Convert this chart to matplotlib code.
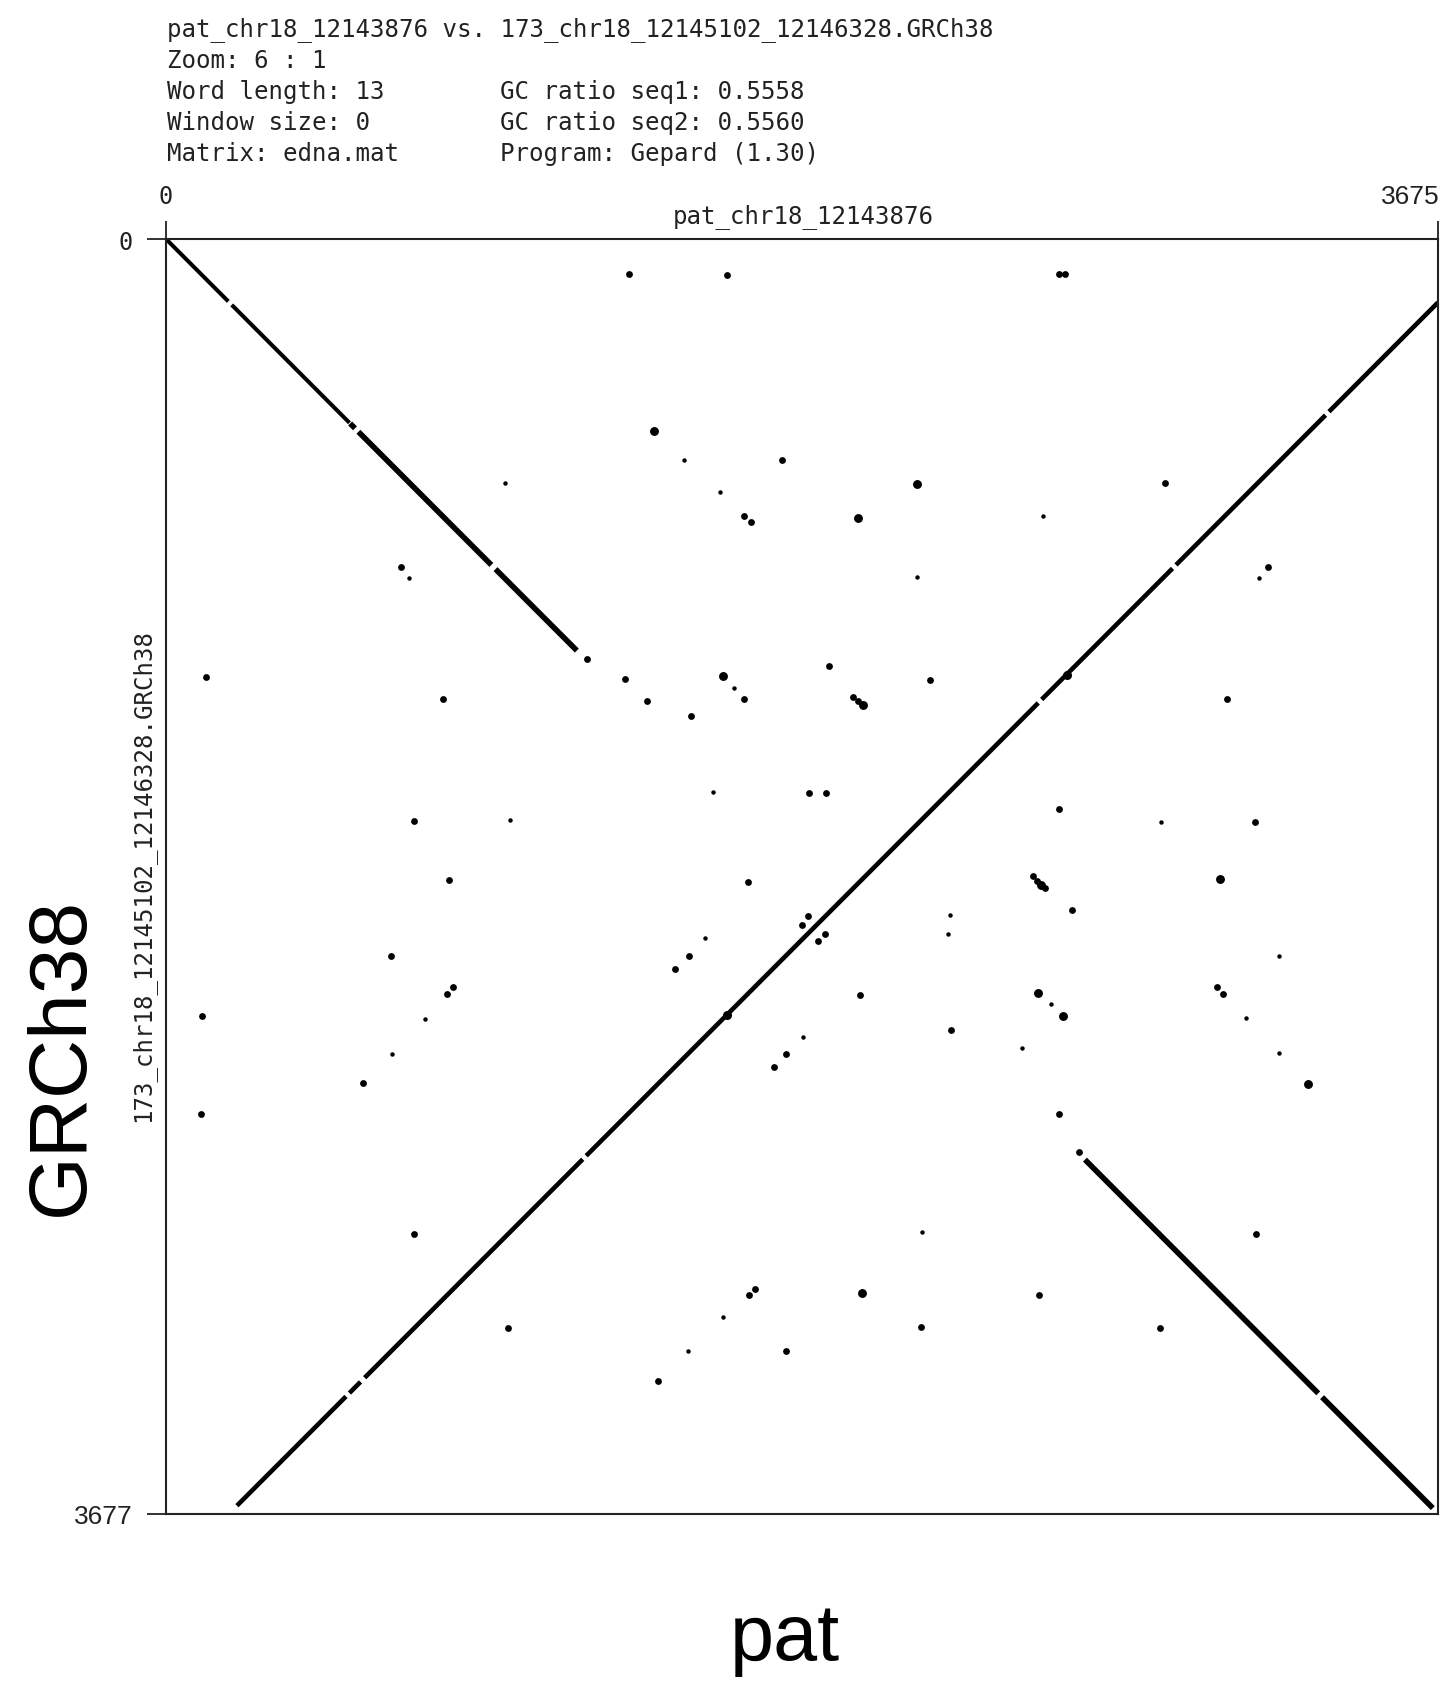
# Gepard dotplot: pat_chr18 vs GRCh38 region

import matplotlib.pyplot as plt

# sequence lengths
len_x = 3675
len_y = 3677

# header text
title_line = 'pat_chr18_12143876 vs. 173_chr18_12145102_12146328.GRCh38'
info_left = ['Zoom: 6 : 1', 'Word length: 13', 'Window size: 0', 'Matrix: edna.mat']
info_right = ['', 'GC ratio seq1: 0.5558', 'GC ratio seq2: 0.5560', 'Program: Gepard (1.30)']
name_x = 'pat_chr18_12143876'
name_y = '173_chr18_12145102_12146328.GRCh38'

# forward matches along y = x (start, end in bp), weight = thick or thin
fwd_start = [0, 190, 532, 556, 952, 2655, 3340]
fwd_end = [180, 530, 546, 940, 1187, 3329, 3660]
fwd_weight = [1, 1, 2, 2, 2, 2, 2]

# reverse complement matches along y = rev_offset - x
rev_offset = 3858
rev_start = [205, 530, 574, 1214, 2530, 2918, 3360]
rev_end = [520, 562, 1204, 2520, 2908, 3350, 3675]
rev_knots = [1621, 2602]

# short scattered hits (x bp, y bp, score 1-3)
dot_x = [978, 679, 703, 1215, 116, 799, 717, 994, 817,
         1339, 1621, 1411, 1498, 1780, 2170, 1602, 1671, 1690, 1998, 2170,
         1915, 1326, 1608, 1642, 1669, 1984, 1998, 2013, 2206, 1390, 1517,
         1580, 1857, 1907,
         2580, 2596, 2885, 2533, 3185, 3159, 3066, 2580, 2876, 3147, 2506, 3045,
         651, 104, 830, 812, 747, 652, 568, 101, 716, 989,
         1681, 1856, 1837, 1903, 1884, 1558, 1510, 1471, 2265, 2260, 2005, 2267,
         2472, 1841, 1791, 1756, 2183, 1702, 1684, 1610, 2011, 2181, 1509, 1791, 1422,
         2516, 2528, 2540, 2617, 3216, 2518, 2556, 2591, 3036, 3054, 3120, 3216,
         3300, 2581, 2639, 3149, 2522, 2873]
dot_y = [703, 947, 977, 1210, 1262, 1328, 1679, 1676, 1849,
         100, 104, 553, 636, 637, 706, 731, 798, 816, 804, 976,
         1232, 1268, 1260, 1295, 1328, 1320, 1332, 1345, 1271, 1331, 1377,
         1595, 1599, 1597,
         102, 102, 703, 799, 947, 978, 1326, 1644, 1681, 1681, 1837, 1845,
         2068, 2240, 2158, 2176, 2250, 2351, 2435, 2522, 2869, 3142,
         1855, 1953, 1977, 2005, 2024, 2017, 2068, 2105, 1950, 2003, 2179, 2280,
         2332, 2302, 2351, 2389, 2863, 3027, 3046, 3110, 3039, 3139, 3207, 3207, 3293,
         1851, 1862, 1873, 1934, 2067, 2175, 2207, 2240, 2158, 2177, 2246, 2348,
         2437, 2522, 2633, 2869, 3046, 3142]
dot_score = [1, 2, 1, 2, 2, 2, 2, 1, 2,
             2, 2, 3, 1, 2, 3, 1, 2, 2, 3, 1,
             2, 2, 3, 1, 2, 2, 2, 3, 2, 2, 2,
             1, 2, 2,
             2, 2, 2, 1, 2, 1, 2, 2, 1, 2, 2, 3,
             2, 2, 2, 2, 1, 1, 2, 2, 2, 2,
             2, 2, 2, 2, 2, 1, 2, 2, 1, 1, 2, 2,
             1, 1, 2, 2, 1, 2, 2, 1, 3, 2, 1, 2, 2,
             2, 3, 2, 2, 1, 3, 1, 3, 2, 2, 1, 1,
             3, 2, 2, 2, 2, 2]

W, H = 1442, 1690
fig = plt.figure(figsize=(W / 100, H / 100), dpi=100)
ax = fig.add_axes([166 / W, 1 - 1515 / H, 1272 / W, 1275 / H])

# diagonal lines
for s, e, w in zip(fwd_start, fwd_end, fwd_weight):
    ax.plot([s, e], [s, e], color='black', lw=2.9 if w == 1 else 4.0,
            solid_capstyle='butt')
for s, e in zip(rev_start, rev_end):
    ax.plot([s, e], [rev_offset - s, rev_offset - e], color='black', lw=3.3,
            solid_capstyle='butt')
for k in rev_knots:
    ax.plot(k, rev_offset - k, 'o', color='black', ms=6.5, mew=0)

# scattered hits
sizes = {1: 3.2, 2: 4.9, 3: 6.4}
for x, y, s in zip(dot_x, dot_y, dot_score):
    ax.plot(x, y, 'o', color='black', ms=sizes[s], mew=0)

ax.set_xlim(0, len_x)
ax.set_ylim(len_y, 0)
ax.xaxis.tick_top()
ax.set_xticks([0, len_x])
ax.set_yticks([0, len_y])
ax.set_xticklabels(['', ''])
ax.set_yticklabels(['0', str(len_y)])
ax.tick_params(axis='x', direction='out', length=13, width=1.3, colors='#222222')
ax.tick_params(axis='y', direction='out', length=14, width=1.3, pad=10, colors='#222222')
for lab in ax.get_yticklabels():
    if lab.get_text() == '0':
        lab.set_family('DejaVu Sans Mono')
        lab.set_fontsize(17)
    else:
        lab.set_family('Liberation Sans')
        lab.set_fontsize(19)
for sp in ax.spines.values():
    sp.set_linewidth(1.5)
    sp.set_color('#222222')

# top axis end labels
ax.annotate('0', xy=(0, 1), xycoords='axes fraction', xytext=(0, 43), textcoords='offset pixels',
            ha='center', va='center', family='DejaVu Sans Mono', fontsize=17, color='#222222')
ax.annotate(str(len_x), xy=(1, 1), xycoords='axes fraction', xytext=(2, 43), textcoords='offset pixels',
            ha='right', va='center', family='Liberation Sans', fontsize=19, color='#222222')

# header
mono = 'DejaVu Sans Mono'
fig.text(167 / W, 1 - 30 / H, title_line, family=mono, fontsize=17.4, va='center', color='#222222')
for i, (a, b) in enumerate(zip(info_left, info_right)):
    yy = 1 - (61 + 31 * i) / H
    fig.text(167 / W, yy, a, family=mono, fontsize=17.4, va='center', color='#222222')
    fig.text(500 / W, yy, b, family=mono, fontsize=17.4, va='center', color='#222222')

# sequence names
fig.text(803 / W, 1 - 217 / H, name_x, family=mono, fontsize=17.4, ha='center', va='center', color='#222222')
fig.text(143 / W, 1 - 876 / H, name_y, family=mono, fontsize=17.4, rotation=90,
         ha='center', va='center', color='#222222')

# big labels
fig.text(62 / W, 1 - 1056 / H, 'GRCh38', family='Liberation Sans', fontsize=59, rotation=90,
         ha='center', va='center')
fig.text(785 / W, 1 - 1640 / H, 'pat', family='Liberation Sans', fontsize=57,
         ha='center', va='center')

fig.savefig('out.png', dpi=100)
